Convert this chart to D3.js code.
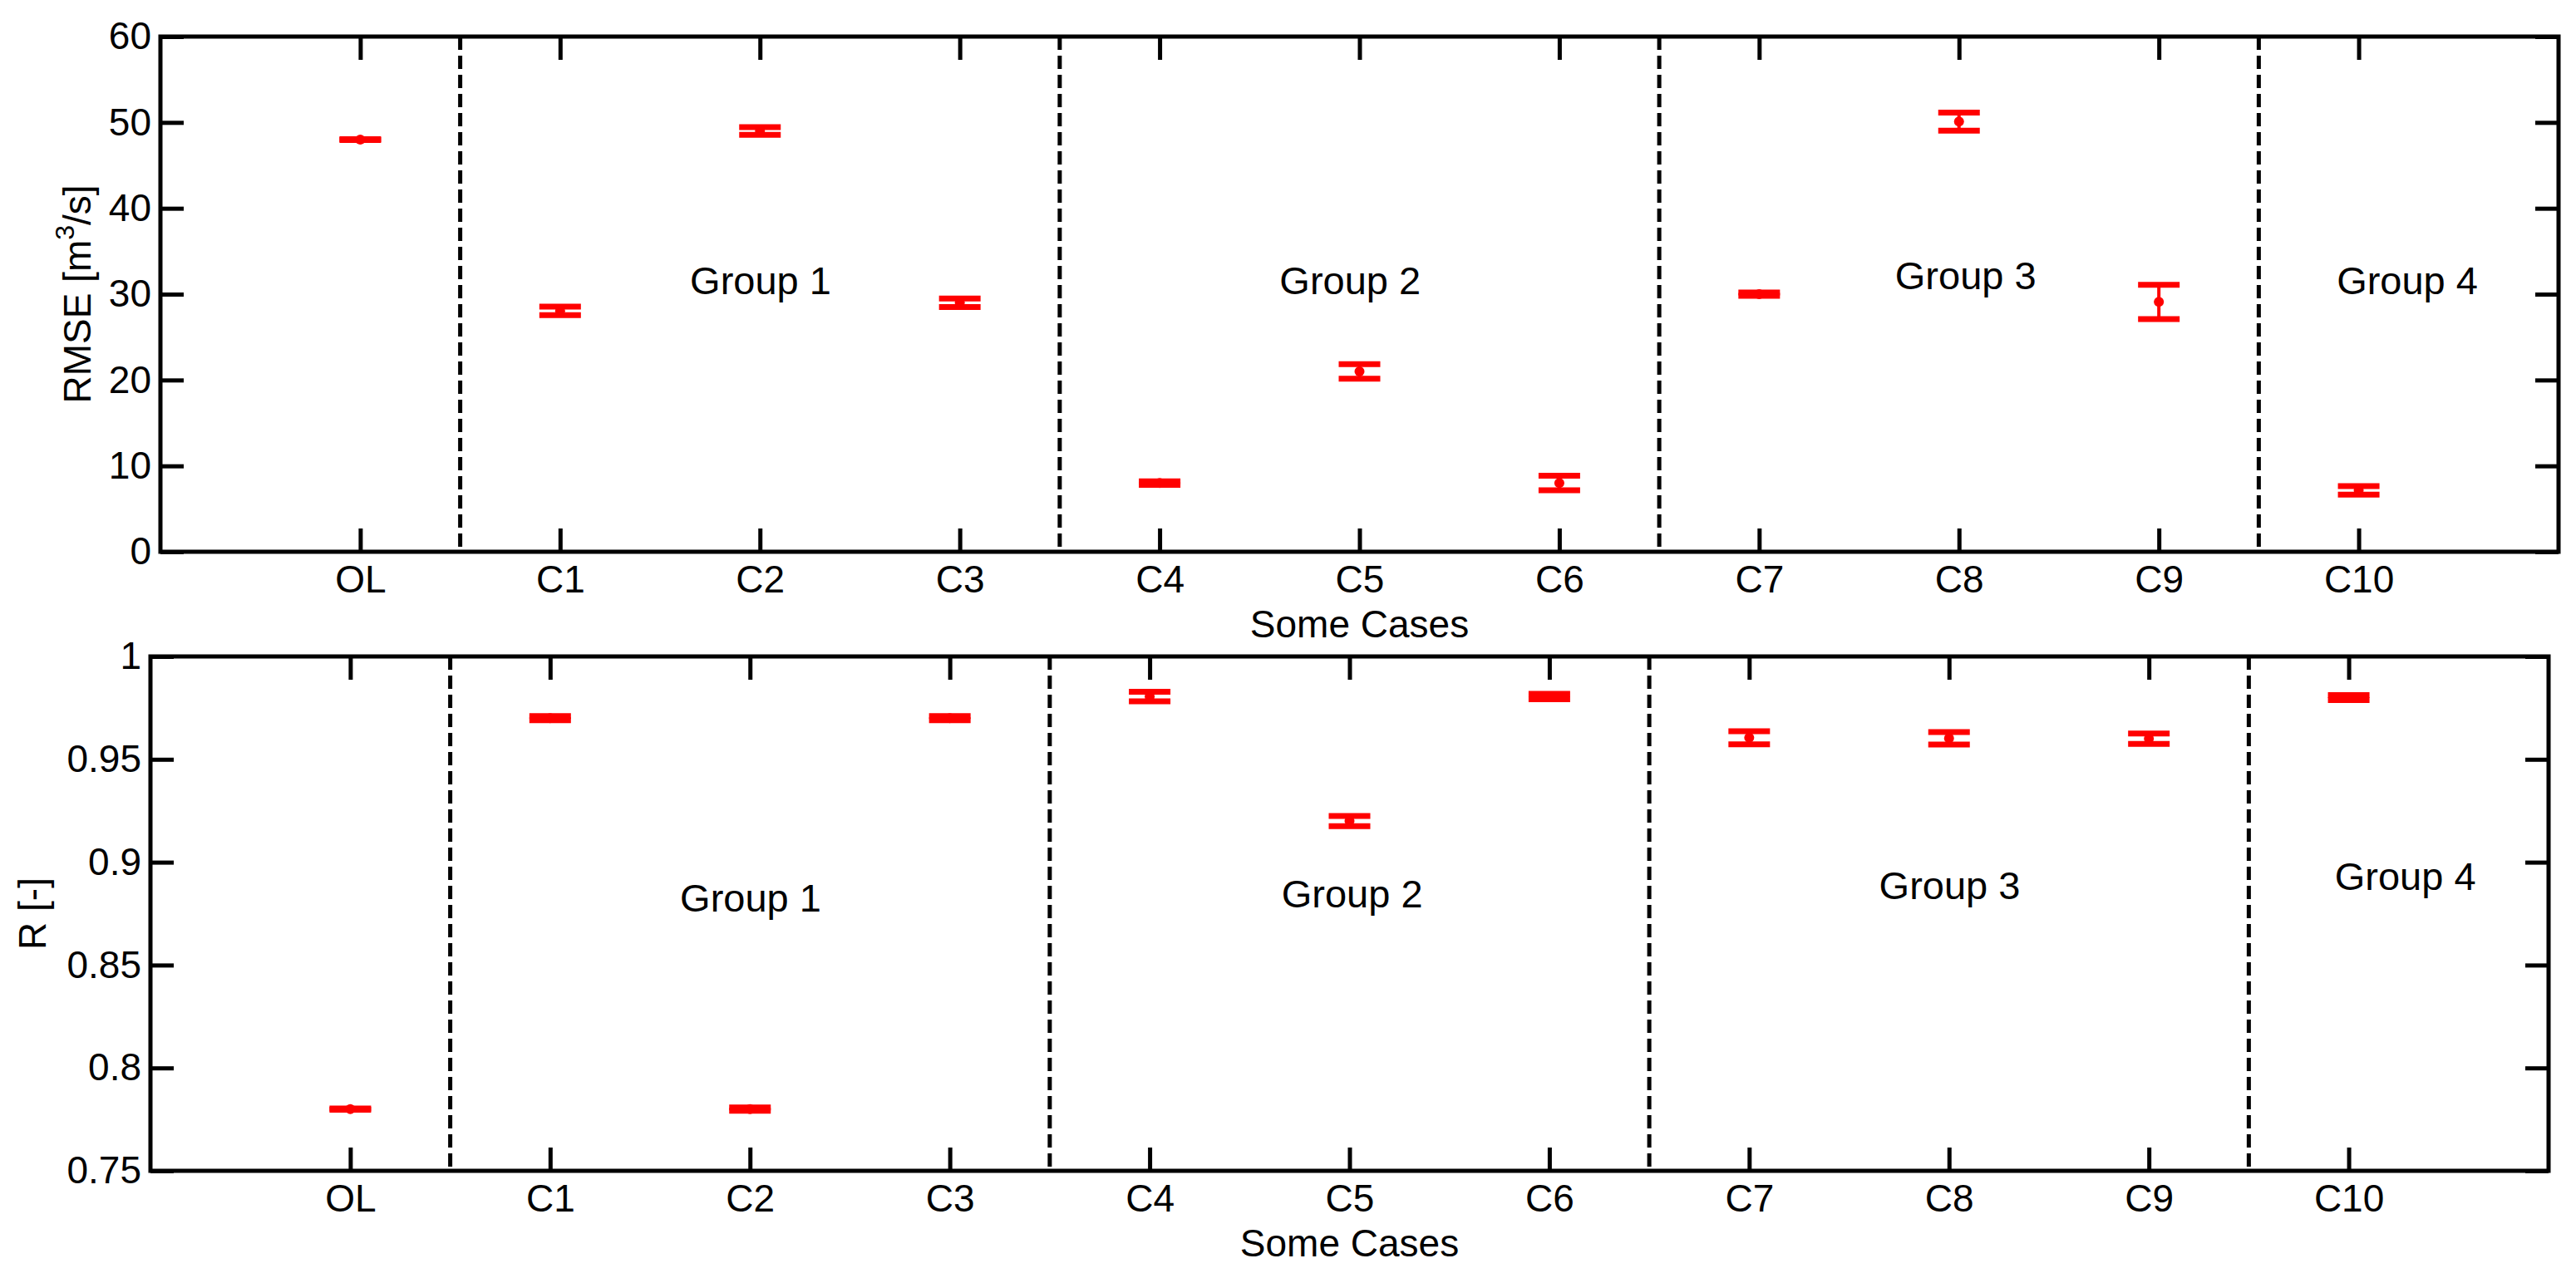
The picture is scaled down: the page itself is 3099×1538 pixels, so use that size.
<!DOCTYPE html>
<html><head><meta charset="utf-8">
<script src="https://cdn.jsdelivr.net/npm/d3@7"></script>
<style>
body{margin:0;background:#fff}
svg{display:block}
text{font-family:"Liberation Sans",Arial,Helvetica,sans-serif;fill:#000}
</style>
</head><body>
<svg id="chart" width="3099" height="1538"></svg>
<script>
// ---------- data ----------
const categories = ["OL","C1","C2","C3","C4","C5","C6","C7","C8","C9","C10"];
const rmseValues = [48.0, 28.05, 49.0, 29.0, 8.0, 21.0, 8.0, 30.0, 50.1, 29.1, 7.15];
const rmseErrors = [0.05, 0.5, 0.45, 0.5, 0.2, 0.85, 0.85, 0.2, 1.05, 2.0, 0.5];
const rValues = [0.780, 0.970, 0.780, 0.970, 0.9805, 0.920, 0.9805, 0.9605, 0.9602, 0.960, 0.980];
const rErrors = [0.0003, 0.001, 0.0008, 0.001, 0.0023, 0.0025, 0.0013, 0.0032, 0.003, 0.0025, 0.0012];
const rmseTicks = [0, 10, 20, 30, 40, 50, 60];
const rTicks = [0.75, 0.8, 0.85, 0.9, 0.95, 1];
const groupEnds = ["OL", "C3", "C6", "C9"];          // dashed separator after these cases
const groupLabels = ["Group 1", "Group 2", "Group 3", "Group 4"];
const rmseGroupX = [2.65, 5.6, 8.68, 10.89];          // in case-index units
const rmseGroupY = [30, 30, 30.6, 30];
const rGroupX = [2.65, 5.66, 8.65, 10.93];
const rGroupY = [0.876, 0.878, 0.882, 0.8867];
const xLabel = "Some Cases";

// ---------- drawing ----------
const svg = d3.select("#chart");
const FS = 46;

function panel(o) {
  const x = d3.scalePoint().domain(categories).range([o.left, o.right]).padding(1);
  const xi = d3.scaleLinear().domain([0, categories.length + 1]).range([o.left, o.right]);
  const y = d3.scaleLinear().domain(o.domain).range([o.bottom, o.top]);
  const g = svg.append("g");

  // group separators
  groupEnds.forEach(c => {
    const i = categories.indexOf(c);
    const xx = (x(categories[i]) + x(categories[i + 1])) / 2;
    g.append("line")
      .attr("x1", xx).attr("x2", xx)
      .attr("y1", y(o.domain[1])).attr("y2", y(o.domain[0]))
      .attr("stroke", "#000").attr("stroke-width", 5)
      .attr("stroke-dasharray", "16,7");
  });

  // group labels
  groupLabels.forEach((t, i) => {
    g.append("text").attr("x", xi(o.gx[i])).attr("y", y(o.gy[i]))
      .attr("font-size", 47).text(t);
  });

  // error bars
  const eb = g.append("g");
  categories.forEach((c, i) => {
    const cx = x(c), v = o.values[i], e = o.errors[i];
    eb.append("line").attr("x1", cx).attr("x2", cx)
      .attr("y1", y(v - e)).attr("y2", y(v + e))
      .attr("stroke", "#ff0000").attr("stroke-width", 4);
    [v - e, v + e].forEach(vv => {
      eb.append("line").attr("x1", cx - 25).attr("x2", cx + 25)
        .attr("y1", y(vv)).attr("y2", y(vv))
        .attr("stroke", "#ff0000").attr("stroke-width", 7);
    });
    eb.append("circle").attr("cx", cx).attr("cy", y(v)).attr("r", 6)
      .attr("fill", "#ff0000");
  });

  // axes
  const style = sel => {
    sel.select(".domain").remove();
    sel.selectAll(".tick line").attr("stroke", "#000").attr("stroke-width", 5);
    sel.selectAll(".tick text").attr("font-size", FS)
      .attr("font-family", '"Liberation Sans",Arial,sans-serif').attr("fill", "#000");
  };
  g.append("g").attr("transform", `translate(0,${o.bottom})`)
    .call(d3.axisBottom(x).tickSizeInner(-28).tickSizeOuter(0).tickPadding(16)).call(style);
  g.append("g").attr("transform", `translate(0,${o.top})`)
    .call(d3.axisTop(x).tickSizeInner(-28).tickSizeOuter(0).tickFormat("")).call(style);
  g.append("g").attr("transform", `translate(${o.left},0)`)
    .call(d3.axisLeft(y).tickValues(o.ticks).tickSizeInner(-28).tickSizeOuter(0)
      .tickPadding(11).tickFormat(d => String(d))).call(style);
  g.append("g").attr("transform", `translate(${o.right},0)`)
    .call(d3.axisRight(y).tickValues(o.ticks).tickSizeInner(-28).tickSizeOuter(0)
      .tickFormat("")).call(style);

  // box
  g.append("rect").attr("x", o.left).attr("y", o.top)
    .attr("width", o.right - o.left).attr("height", o.bottom - o.top)
    .attr("fill", "none").attr("stroke", "#000").attr("stroke-width", 5);

  // x label
  g.append("text").attr("x", (o.left + o.right) / 2).attr("y", o.bottom + 103)
    .attr("text-anchor", "middle").attr("font-size", FS).text(xLabel);

  // y label
  const yl = g.append("text")
    .attr("transform", `translate(${o.ylx},${(o.top + o.bottom) / 2}) rotate(-90)`)
    .attr("text-anchor", "middle").attr("font-size", FS);
  o.ylabel(yl);
}

panel({
  left: 193, right: 3078, top: 44, bottom: 664,
  domain: [0, 60], ticks: rmseTicks,
  values: rmseValues, errors: rmseErrors,
  gx: rmseGroupX, gy: rmseGroupY, ylx: 109,
  ylabel: t => {
    t.append("tspan").text("RMSE [m");
    t.append("tspan").attr("font-size", 32).attr("dy", -20).text("3");
    t.append("tspan").attr("dy", 20).text("/s]");
  }
});

panel({
  left: 181, right: 3066, top: 790, bottom: 1409,
  domain: [0.75, 1], ticks: rTicks,
  values: rValues, errors: rErrors,
  gx: rGroupX, gy: rGroupY, ylx: 55,
  ylabel: t => t.text("R [-]")
});
</script>
</body></html>
